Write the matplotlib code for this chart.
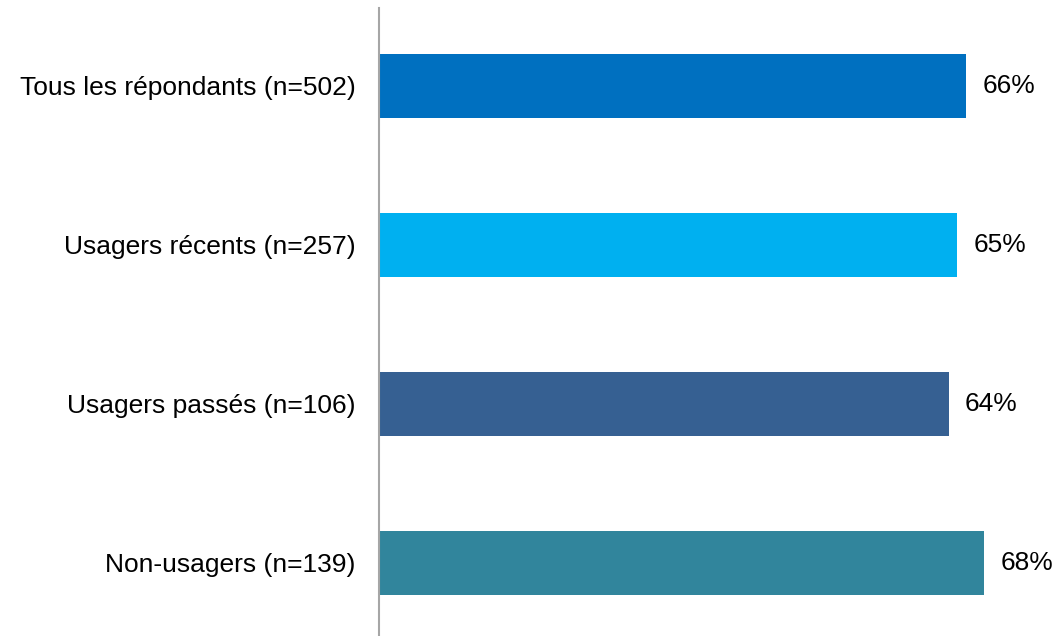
import matplotlib.pyplot as plt

plt.rcParams['font.family'] = ['Liberation Sans', 'DejaVu Sans']

categories = ['Tous les répondants (n=502)', 'Usagers récents (n=257)',
              'Usagers passés (n=106)', 'Non-usagers (n=139)']
values = [66, 65, 64, 68]
colors = ['#0070C0', '#00B0F0', '#366092', '#31859C']

fig = plt.figure(figsize=(10.58, 6.36), dpi=100)
ax = fig.add_axes([379 / 1058, 0, 1 - 379 / 1058, 1 - 8 / 636])

y = range(len(categories))
ax.barh(y, values, height=0.4, color=colors)
for i, v in zip(y, values):
    ax.text(v + 1.8, i, f'{v}%', va='center', ha='left', fontsize=19)

ax.set_xlim(0, 76.3)
ax.set_ylim(3.46, -0.49)
ax.set_yticks(list(y))
ax.set_yticklabels(categories, fontsize=19)
ax.tick_params(axis='y', length=0, pad=17)
ax.set_xticks([])
for s in ['top', 'right', 'bottom']:
    ax.spines[s].set_visible(False)
ax.spines['left'].set_color('#A6A6A6')
ax.spines['left'].set_linewidth(1.5)

fig.savefig('out.png', dpi=100)
